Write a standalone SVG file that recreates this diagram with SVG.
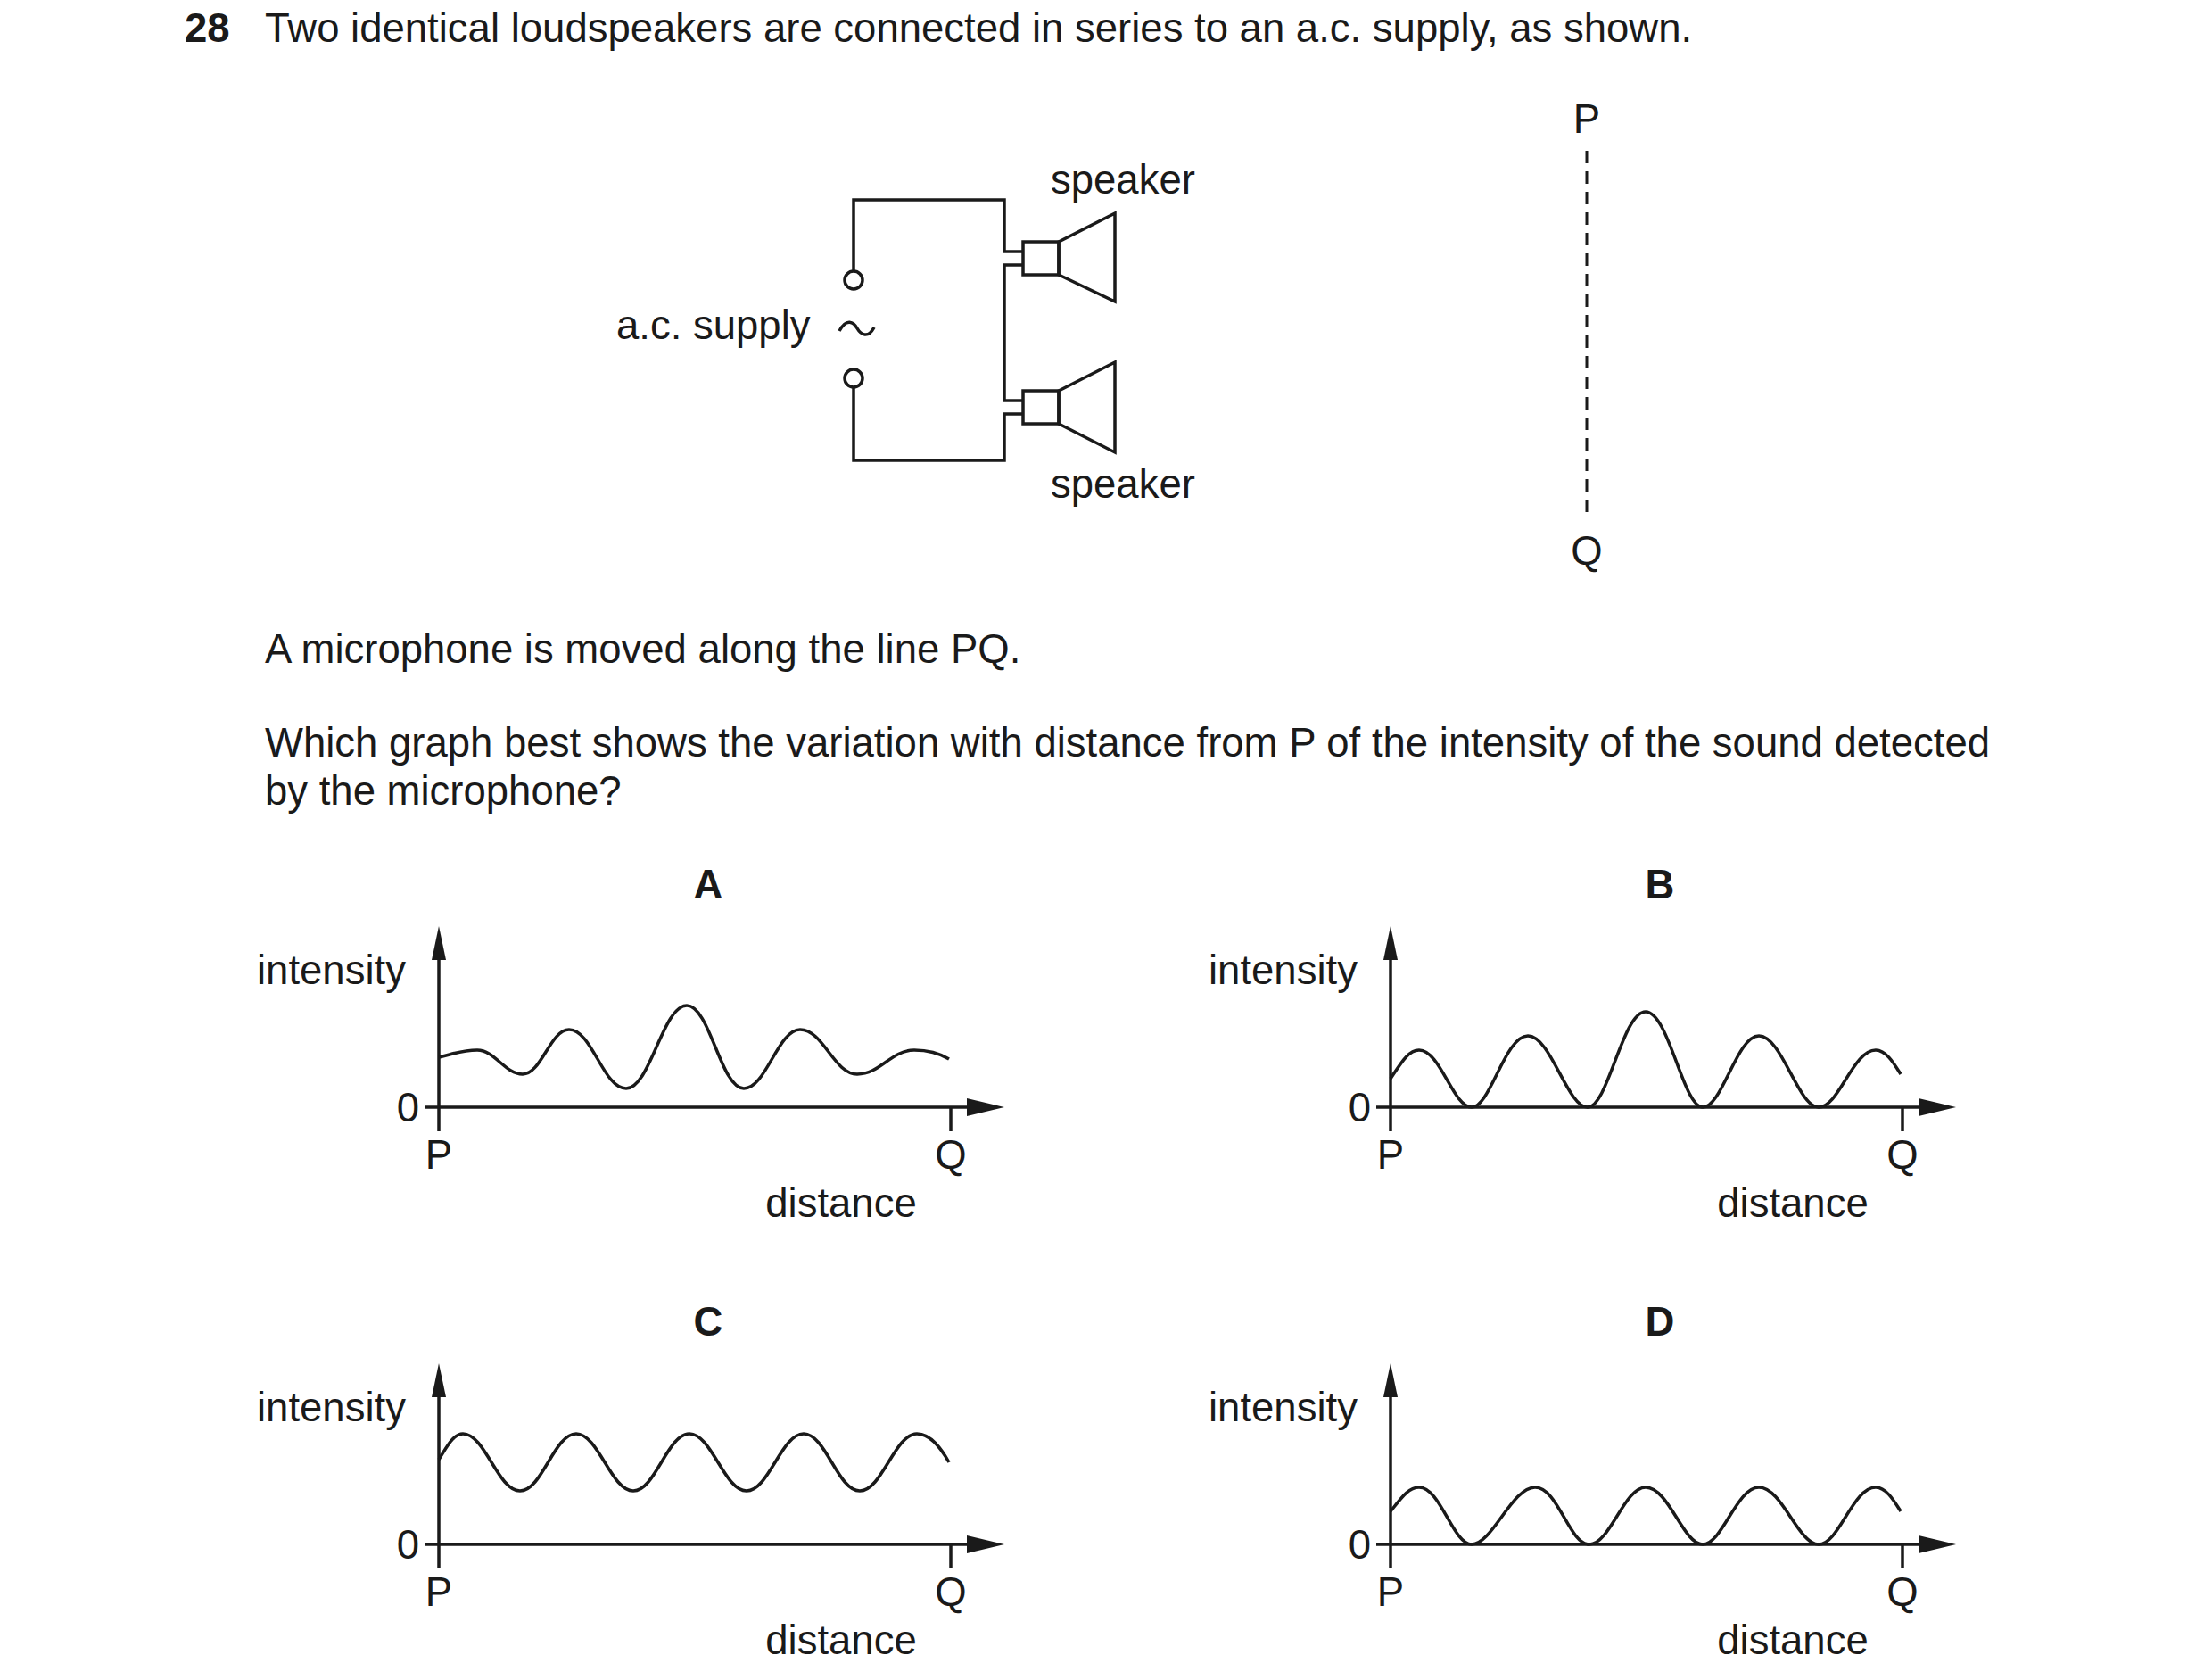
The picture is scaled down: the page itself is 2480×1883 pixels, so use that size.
<svg xmlns="http://www.w3.org/2000/svg" width="2480" height="1883" viewBox="0 0 2480 1883">
<defs>
<style>
text{font-family:"Liberation Sans",Arial,sans-serif;font-size:45.5px;fill:#1a1a1a}
.b{font-weight:bold}
.m{text-anchor:middle}
.e{text-anchor:end}
.w{fill:none;stroke:#1a1a1a;stroke-width:3.5}
.c{fill:none;stroke:#1a1a1a;stroke-width:3.5}
</style>
<g id="axes">
<line class="w" x1="0" y1="27" x2="0" y2="-170"/>
<polygon points="0,-203 -8,-165 8,-165" fill="#1a1a1a"/>
<line class="w" x1="-16" y1="0" x2="600" y2="0" stroke-width="4.5"/>
<polygon points="634,0 592,-10 592,10" fill="#1a1a1a"/>
<line class="w" x1="574" y1="0" x2="574" y2="27"/>
<text x="-204" y="-138">intensity</text>
<text x="-22" y="16" class="e">0</text>
<text x="0" y="69" class="m">P</text>
<text x="574" y="69" class="m">Q</text>
<text x="451" y="123" class="m">distance</text>
</g>
</defs>
<rect width="2480" height="1883" fill="#fff"/>
<g transform="translate(-6,1)">
<text x="213" y="46" class="b">28</text>
<text x="303" y="46">Two identical loudspeakers are connected in series to an a.c. supply, as shown.</text>
<g id="circuit">
<path class="w" d="M963,303 V223 H1132 V281 H1153 M1153,296 H1132 V448 H1153 M1153,463 H1132 V515 H963 V433"/>
<circle class="w" cx="963" cy="313" r="10" fill="#fff"/>
<circle class="w" cx="963" cy="423" r="10" fill="#fff"/>
<path class="w" d="M947,370 C955,355 963,360 967,367 C971,374 979,379 986,366" stroke-width="2.5"/>
<rect class="w" x="1153" y="270" width="40" height="37" fill="#fff"/>
<polygon class="w" points="1193,270 1256,238 1256,337 1193,307"/>
<rect class="w" x="1153" y="437" width="40" height="37" fill="#fff"/>
<polygon class="w" points="1193,437 1256,405 1256,506 1193,474"/>
<text x="1184" y="216">speaker</text>
<text x="1184" y="557">speaker</text>
<text x="697" y="379">a.c. supply</text>
</g>
<g id="line-PQ">
<text x="1785" y="148" class="m">P</text>
<line x1="1785" y1="168" x2="1785" y2="582" stroke="#1a1a1a" stroke-width="3" stroke-dasharray="14,9"/>
<text x="1785" y="632" class="m">Q</text>
</g>
<text x="303" y="742">A microphone is moved along the line PQ.</text>
<text x="303" y="847">Which graph best shows the variation with distance from P of the intensity of the sound detected</text>
<text x="303" y="901">by the microphone?</text>
<g id="graphA" transform="translate(498,1240)">
<use href="#axes"/>
<text x="302" y="-234" class="m b">A</text>
<path class="c" d="M0,-56 C17,-60 26,-64 43,-64 C63,-64 74,-37 94,-37 C115,-37 125,-87 146,-87 C172,-87 184,-21 210,-21 C237,-21 251,-114 278,-114 C304,-114 316,-21 342,-21 C367,-21 380,-87 405,-87 C431,-87 443,-37 469,-37 C495,-37 507,-64 533,-64 C549,-64 562,-60 572,-54"/>
</g>
<g id="graphB" transform="translate(1565,1240)">
<use href="#axes"/>
<text x="302" y="-234" class="m b">B</text>
<path class="c" d="M0,-32 C12,-50 20,-64 32,-64 C56,-64 70,0 91,0 C112,0 128,-80 154,-80 C180,-80 198,0 221,0 C244,0 260,-107 286,-107 C312,-107 328,0 350,0 C372,0 388,-80 413,-80 C439,-80 457,0 480,0 C503,0 518,-64 544,-64 C556,-64 565,-48 572,-37"/>
</g>
<g id="graphC" transform="translate(498,1730)">
<use href="#axes"/>
<text x="302" y="-234" class="m b">C</text>
<path class="c" d="M0,-95 C10,-112 17,-124 27,-124 C52,-124 66,-60 91,-60 C116,-60 129,-124 154,-124 C179,-124 193,-60 218,-60 C243,-60 256,-124 281,-124 C306,-124 320,-60 345,-60 C370,-60 384,-124 409,-124 C434,-124 447,-60 472,-60 C497,-60 511,-124 536,-124 C552,-124 564,-106 572,-92"/>
</g>
<g id="graphD" transform="translate(1565,1730)">
<use href="#axes"/>
<text x="302" y="-234" class="m b">D</text>
<path class="c" d="M0,-37 C12,-52 20,-64 32,-64 C56,-64 70,0 91,0 C114,0 136,-64 162,-64 C188,-64 200,0 223,0 C246,0 262,-64 286,-64 C312,-64 328,0 350,0 C372,0 388,-64 413,-64 C439,-64 457,0 480,0 C503,0 518,-64 544,-64 C556,-64 565,-48 572,-37"/>
</g>
</g>
</svg>
